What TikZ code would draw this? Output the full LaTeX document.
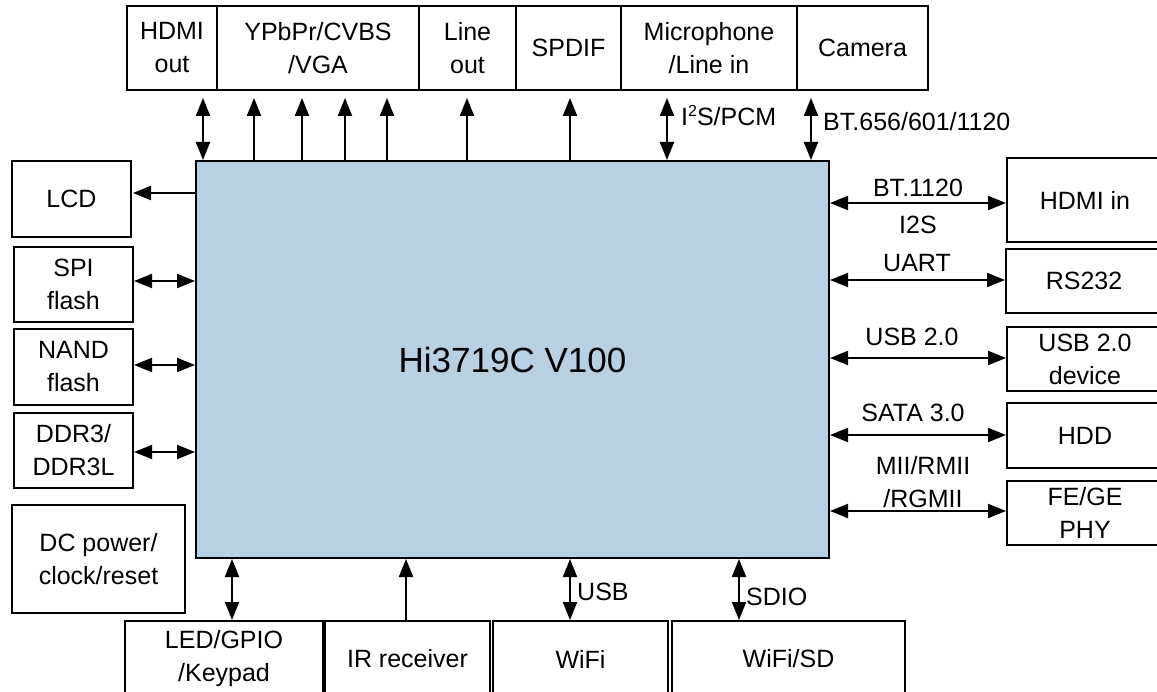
\documentclass[tikz,border=0pt]{standalone}
\usepackage{fontspec}
\setmainfont{Liberation Sans}
\usetikzlibrary{arrows.meta}
\definecolor{chipblue}{HTML}{B7D1E3}
\begin{document}
\begin{tikzpicture}[x=1pt,y=-1pt,
  box/.style={draw, line width=2pt, inner sep=0pt, align=center, font=\fontsize{25}{33}\selectfont, anchor=north west},
  lab/.style={inner sep=0pt, font=\fontsize{25}{33}\selectfont, align=center},
  arr/.style={line width=2pt, -{Triangle[length=18pt,width=14pt]}},
  darr/.style={line width=2pt, {Triangle[length=18pt,width=14pt]}-{Triangle[length=18pt,width=14pt]}},
]
\useasboundingbox (0,0) rectangle (1157,692);
\begin{scope}
\clip (0,0) rectangle (1157,692);
% chip
\node[box, fill=chipblue, minimum width=633pt, minimum height=397pt, font=\fontsize{35}{40}\selectfont] (chip) at (195,160) {Hi3719C V100};
% top boxes
\node[box, minimum width=90pt, minimum height=84pt] (hdmiout) at (126,5) {HDMI\\out};
\node[box, minimum width=202pt, minimum height=84pt] (ypbpr) at (216,5) {YPbPr/CVBS\\/VGA};
\node[box, minimum width=97pt, minimum height=84pt] (lineout) at (418,5) {Line\\out};
\node[box, minimum width=105pt, minimum height=84pt] (spdif) at (515,5) {SPDIF};
\node[box, minimum width=176pt, minimum height=84pt] (mic) at (620,5) {Microphone\\/Line in};
\node[box, minimum width=131pt, minimum height=84pt] (camera) at (796,5) {Camera};
% left boxes
\node[box, minimum width=119pt, minimum height=76pt] (lcd) at (11,160) {LCD};
\node[box, minimum width=119pt, minimum height=75pt] (spi) at (13,246) {SPI\\flash};
\node[box, minimum width=119pt, minimum height=76pt] (nand) at (13,328) {NAND\\flash};
\node[box, minimum width=119pt, minimum height=75pt] (ddr) at (13,412) {DDR3/\\DDR3L};
\node[box, minimum width=173pt, minimum height=108pt] (dc) at (11,504) {DC power/\\clock/reset};
% bottom boxes
\node[box, minimum width=198pt, minimum height=76pt] (led) at (124,620) {LED/GPIO\\/Keypad};
\node[box, minimum width=165pt, minimum height=76pt] (ir) at (324,620) {IR receiver};
\node[box, minimum width=175pt, minimum height=76pt] (wifi) at (492,620) {WiFi};
\node[box, minimum width=233pt, minimum height=76pt] (wifisd) at (671,620) {WiFi/SD};
% right boxes
\node[box, minimum width=156pt, minimum height=84pt] (hdmiin) at (1006,157) {HDMI in};
\node[box, minimum width=156pt, minimum height=64pt] (rs232) at (1005,248) {RS232};
\node[box, minimum width=156pt, minimum height=64pt] (usbdev) at (1006,326) {USB 2.0\\device};
\node[box, minimum width=156pt, minimum height=65pt] (hdd) at (1006,402) {HDD};
\node[box, minimum width=156pt, minimum height=64pt] (fege) at (1006,480) {FE/GE\\PHY};
% top arrows
\draw[darr, shorten >=7pt] (203,0 |- chip.north) -- (203,0 |- hdmiout.south);
\draw[arr, shorten >=7pt] (254,0 |- chip.north) -- (254,0 |- ypbpr.south);
\draw[arr, shorten >=7pt] (302,0 |- chip.north) -- (302,0 |- ypbpr.south);
\draw[arr, shorten >=7pt] (345,0 |- chip.north) -- (345,0 |- ypbpr.south);
\draw[arr, shorten >=7pt] (387,0 |- chip.north) -- (387,0 |- ypbpr.south);
\draw[arr, shorten >=7pt] (467,0 |- chip.north) -- (467,0 |- lineout.south);
\draw[arr, shorten >=7pt] (570,0 |- chip.north) -- (570,0 |- spdif.south);
\draw[darr, shorten >=7pt] (667,0 |- chip.north) -- (667,0 |- mic.south);
\draw[darr, shorten >=7pt] (811,0 |- chip.north) -- (811,0 |- camera.south);
\node[lab, anchor=west] (i2spcm) at (681,116) {I\raisebox{9pt}{\fontsize{16}{16}\selectfont 2}S/PCM};
\node[lab, anchor=west] (bt656) at (823,122) {BT.656/601/1120};
% left arrows
\draw[arr, shorten >=1pt] (chip.west |- 0,193) -- (lcd.east |- 0,193);
\draw[darr] (chip.west |- 0,281) -- (spi.east |- 0,281);
\draw[darr] (chip.west |- 0,365) -- (nand.east |- 0,365);
\draw[darr] (chip.west |- 0,452) -- (ddr.east |- 0,452);
% bottom arrows
\draw[darr] (232,0 |- chip.south) -- (232,0 |- led.north);
\draw[arr] (406,0 |- ir.north) -- (406,0 |- chip.south);
\draw[darr] (570,0 |- chip.south) -- (570,0 |- wifi.north);
\draw[darr] (739,0 |- chip.south) -- (739,0 |- wifisd.north);
\node[lab, anchor=west] (usb) at (577,592) {USB};
\node[lab, anchor=west] (sdio) at (746,597) {SDIO};
% right arrows
\draw[darr] (chip.east |- 0,203) -- (hdmiin.west |- 0,203);
\draw[darr] (chip.east |- 0,280) -- (rs232.west |- 0,280);
\draw[darr] (chip.east |- 0,358) -- (usbdev.west |- 0,358);
\draw[darr] (chip.east |- 0,435) -- (hdd.west |- 0,435);
\draw[darr] (chip.east |- 0,511) -- (fege.west |- 0,511);
\node[lab] (bt1120) at (918,188) {BT.1120};
\node[lab] (i2s) at (918,225) {I2S};
\node[lab] (uart) at (917,263) {UART};
\node[lab] (usb20) at (912,337) {USB 2.0};
\node[lab] (sata) at (913,413) {SATA 3.0};
\node[lab] (mii) at (923,482) {MII/RMII\\/RGMII};
\end{scope}
\end{tikzpicture}
\end{document}
